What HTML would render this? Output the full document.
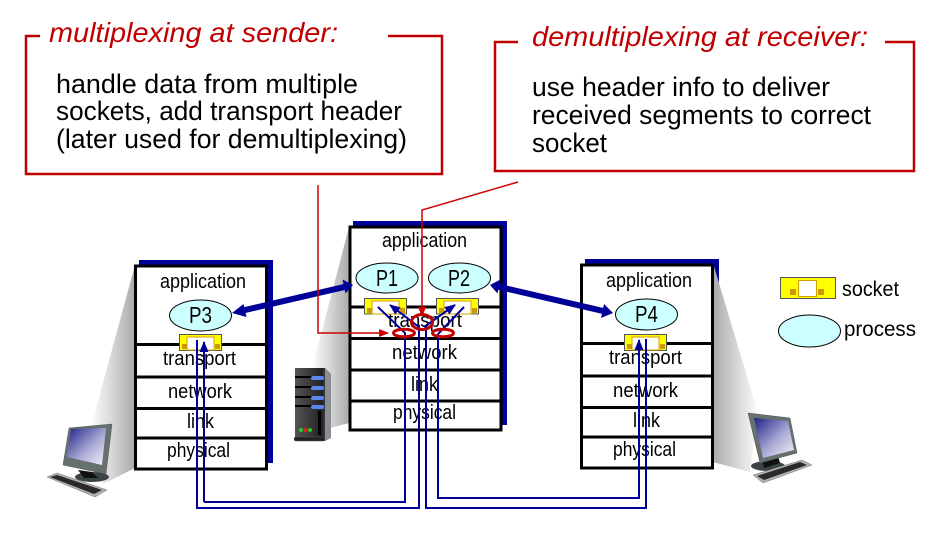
<!DOCTYPE html>
<html>
<head>
<meta charset="utf-8">
<style>
html,body{margin:0;padding:0;background:#fff;width:939px;height:539px;overflow:hidden}
svg{display:block}
text{font-family:"Liberation Sans",sans-serif;fill:#000}
.r{fill:#c00000;font-style:italic;font-size:28px}
.b{font-size:27px}
.s{font-size:20px}
.p{font-size:23px}
</style>
</head>
<body>
<svg width="939" height="539" viewBox="0 0 939 539" xmlns="http://www.w3.org/2000/svg">
<defs>
<linearGradient id="gl" x1="1" y1="0" x2="0" y2="0"><stop offset="0" stop-color="#aaaaaa"/><stop offset=".55" stop-color="#d8d8d8"/><stop offset="1" stop-color="#fbfbfb"/></linearGradient>
<linearGradient id="gr" x1="0" y1="0" x2="1" y2="0"><stop offset="0" stop-color="#aaaaaa"/><stop offset=".55" stop-color="#d8d8d8"/><stop offset="1" stop-color="#fbfbfb"/></linearGradient>
<linearGradient id="sc" x1="0" y1="0" x2="1" y2="1"><stop offset="0" stop-color="#1f1f88"/><stop offset=".55" stop-color="#a8a8d4"/><stop offset="1" stop-color="#f4f4fb"/></linearGradient>
<linearGradient id="sv" x1="0" y1="0" x2="1" y2="0"><stop offset="0" stop-color="#555"/><stop offset=".75" stop-color="#222"/><stop offset="1" stop-color="#777"/></linearGradient>
<marker id="ar" markerWidth="10" markerHeight="8" refX="9" refY="4" orient="auto" markerUnits="userSpaceOnUse"><path d="M0 0L10 4L0 8Z" fill="#d00000"/></marker>
<marker id="ab" markerWidth="11" markerHeight="9" refX="10" refY="4.5" orient="auto" markerUnits="userSpaceOnUse"><path d="M0 0L11 4.5L0 9Z" fill="#000099"/></marker>
</defs>

<!-- callouts -->
<path d="M40 36H26V174H442V36H388" fill="none" stroke="#c00000" stroke-width="2.500"/>
<text class="r" x="49" y="42" textLength="289" lengthAdjust="spacingAndGlyphs">multiplexing at sender:</text>
<text class="b" x="56" y="93" textLength="302" lengthAdjust="spacingAndGlyphs">handle data from multiple</text>
<text class="b" x="56" y="120" textLength="346" lengthAdjust="spacingAndGlyphs">sockets, add transport header</text>
<text class="b" x="56" y="148" textLength="351" lengthAdjust="spacingAndGlyphs">(later used for demultiplexing)</text>

<path d="M518 42H495V171H914V42H885" fill="none" stroke="#c00000" stroke-width="2.500"/>
<text class="r" x="532" y="46" textLength="336" lengthAdjust="spacingAndGlyphs">demultiplexing at receiver:</text>
<text class="b" x="532" y="96" textLength="298" lengthAdjust="spacingAndGlyphs">use header info to deliver</text>
<text class="b" x="532" y="124" textLength="339" lengthAdjust="spacingAndGlyphs">received segments to correct</text>
<text class="b" x="532" y="152" textLength="75" lengthAdjust="spacingAndGlyphs">socket</text>

<!-- blue shadows -->
<rect x="139" y="260" width="134" height="203" fill="#000099"/>
<rect x="353" y="221" width="154" height="204" fill="#000099"/>
<rect x="585" y="259" width="134" height="60" fill="#000099"/>

<!-- gray cones -->
<polygon points="135,265 92,423 103,484 135,468" fill="url(#gl)"/>
<polygon points="349,227 313,365 330,428 349,423" fill="url(#gl)"/>
<polygon points="713,263 758,413 750,472 713,462" fill="url(#gr)"/>

<!-- left stack -->
<rect x="135.500" y="266" width="131" height="203" fill="#fff" stroke="#000" stroke-width="3"/>
<path d="M135 344.500H267M135 377H267M135 408.500H267M135 438H267" stroke="#000" stroke-width="3"/>
<!-- center stack -->
<rect x="350" y="227" width="151" height="203" fill="#fff" stroke="#000" stroke-width="3"/>
<path d="M350 307H501M350 338.500H501M350 370H501M350 401H501" stroke="#000" stroke-width="3"/>
<!-- right stack -->
<rect x="581.500" y="265" width="131" height="203" fill="#fff" stroke="#000" stroke-width="3"/>
<path d="M581 343.500H713M581 376H713M581 407.500H713M581 437H713" stroke="#000" stroke-width="3"/>

<!-- stack labels -->
<text class="s" x="160" y="288" textLength="86" lengthAdjust="spacingAndGlyphs">application</text>
<text class="s" x="163" y="365" textLength="73" lengthAdjust="spacingAndGlyphs">transport</text>
<text class="s" x="168" y="398" textLength="64" lengthAdjust="spacingAndGlyphs">network</text>
<text class="s" x="187" y="428" textLength="27" lengthAdjust="spacingAndGlyphs">link</text>
<text class="s" x="167" y="457" textLength="63" lengthAdjust="spacingAndGlyphs">physical</text>

<text class="s" x="382" y="247" textLength="85" lengthAdjust="spacingAndGlyphs">application</text>
<text class="s" x="388" y="327" textLength="74" lengthAdjust="spacingAndGlyphs">transport</text>
<text class="s" x="392" y="359" textLength="65" lengthAdjust="spacingAndGlyphs">network</text>
<text class="s" x="411" y="391" textLength="27" lengthAdjust="spacingAndGlyphs">link</text>
<text class="s" x="393" y="419" textLength="63" lengthAdjust="spacingAndGlyphs">physical</text>

<text class="s" x="606" y="287" textLength="86" lengthAdjust="spacingAndGlyphs">application</text>
<text class="s" x="609" y="364" textLength="73" lengthAdjust="spacingAndGlyphs">transport</text>
<text class="s" x="613" y="397" textLength="65" lengthAdjust="spacingAndGlyphs">network</text>
<text class="s" x="633" y="427" textLength="27" lengthAdjust="spacingAndGlyphs">link</text>
<text class="s" x="613" y="456" textLength="63" lengthAdjust="spacingAndGlyphs">physical</text>

<!-- processes -->
<g fill="#ccffff" stroke="#000" stroke-width="1">
<ellipse cx="387" cy="278" rx="31" ry="15"/>
<ellipse cx="459.500" cy="278" rx="31" ry="15"/>
<ellipse cx="200.500" cy="315.500" rx="31" ry="15.500"/>
<ellipse cx="646.500" cy="314.500" rx="31" ry="15.500"/>
<ellipse cx="809.500" cy="331" rx="31" ry="16"/>
</g>
<text class="p" x="376" y="286" textLength="22" lengthAdjust="spacingAndGlyphs">P1</text>
<text class="p" x="448" y="286" textLength="22" lengthAdjust="spacingAndGlyphs">P2</text>
<text class="p" x="189" y="323" textLength="23" lengthAdjust="spacingAndGlyphs">P3</text>
<text class="p" x="635" y="322" textLength="23" lengthAdjust="spacingAndGlyphs">P4</text>

<!-- sockets -->
<g transform="translate(364,298)"><rect x=".5" y=".5" width="42" height="15.500" fill="#ffff00" stroke="#555"/><rect x="8" y="3" width="27" height="13" fill="#fff" stroke="#d6a000"/><rect x="3" y="10" width="5" height="5" fill="#cc9900"/><rect x="36" y="10" width="5" height="5" fill="#cc9900"/></g>
<g transform="translate(436,298)"><rect x=".5" y=".5" width="42" height="15.500" fill="#ffff00" stroke="#555"/><rect x="8" y="3" width="27" height="13" fill="#fff" stroke="#d6a000"/><rect x="3" y="10" width="5" height="5" fill="#cc9900"/><rect x="36" y="10" width="5" height="5" fill="#cc9900"/></g>
<g transform="translate(179,334)"><rect x=".5" y=".5" width="42" height="16" fill="#ffff00" stroke="#555"/><rect x="8" y="3" width="27" height="13" fill="#fff" stroke="#d6a000"/><rect x="3" y="10" width="5" height="5" fill="#cc9900"/><rect x="36" y="10" width="5" height="5" fill="#cc9900"/></g>
<g transform="translate(624,334)"><rect x=".5" y=".5" width="42" height="16" fill="#ffff00" stroke="#555"/><rect x="8" y="3" width="27" height="13" fill="#fff" stroke="#d6a000"/><rect x="3" y="10" width="5" height="5" fill="#cc9900"/><rect x="36" y="10" width="5" height="5" fill="#cc9900"/></g>
<g transform="translate(780,277)"><rect x=".5" y=".5" width="55" height="21" fill="#ffff00" stroke="#555"/><rect x="18.500" y="3.500" width="18" height="16" fill="#fff" stroke="#d6a000"/><rect x="10" y="12" width="6" height="6" fill="#cc9900"/><rect x="38" y="12" width="6" height="6" fill="#cc9900"/></g>

<!-- legend text -->
<text x="842" y="296" font-size="21" textLength="57" lengthAdjust="spacingAndGlyphs">socket</text>
<text x="844" y="336" font-size="21" textLength="72" lengthAdjust="spacingAndGlyphs">process</text>

<!-- thick arrows -->
<g stroke="#000099" stroke-width="6" fill="none">
<path d="M240 311.200L345 286.800"/>
<path d="M498 286.600L605 311.400"/>
</g>
<g fill="#000099">
<path d="M232 313L243.500 304L246.500 317Z"/>
<path d="M353 285L342.500 279.500L345.500 293.500Z"/>
<path d="M490 285L500.500 279.500L497.500 293.500Z"/>
<path d="M613 313L604 304L601 318Z"/>
</g>

<!-- thin blue wires -->
<g fill="none" stroke="#000099" stroke-width="2">
<path d="M197 340V508H419V325"/>
<path d="M204 502V342" marker-end="url(#ab)"/>
<path d="M204 502H405V333L378 307"/>
<path d="M426 325V508H646V339"/>
<path d="M438 334V498H639V340" marker-end="url(#ab)"/>
<path d="M419 327L390 305" marker-end="url(#ab)"/>
<path d="M424 327L455 305" marker-end="url(#ab)"/>
<path d="M438 334L464 307"/>
</g>

<!-- red connectors -->
<g fill="none" stroke="#d00000" stroke-width="1.500">
<path d="M318 185V333H388" marker-end="url(#ar)"/>
<path d="M518 182L422 210V316" marker-end="url(#ar)"/>
</g>
<g fill="none" stroke="#c00000" stroke-width="3">
<ellipse cx="404" cy="333" rx="10.500" ry="3.800"/>
<ellipse cx="422" cy="322" rx="10.500" ry="7.500"/>
<ellipse cx="443" cy="333" rx="10.500" ry="3.800"/>
</g>

<!-- server -->
<g>
<polygon points="295,368 325,368 331,374 331,438 325,441 295,441" fill="url(#sv)"/>
<polygon points="325,368 331,374 331,438 325,441" fill="#8a8f96"/>
<path d="M295 377H323M295 387H323M295 397H323M295 406H323" stroke="#000" stroke-width="2"/>
<g fill="#5a86ee"><rect x="311" y="376" width="13" height="4" rx="2"/><rect x="311" y="386" width="13" height="4" rx="2"/><rect x="311" y="396" width="13" height="4" rx="2"/><rect x="311" y="405" width="13" height="4" rx="2"/></g>
<rect x="318" y="411" width="3" height="24" fill="#000"/>
<circle cx="301" cy="430" r="2" fill="#22cc22"/><circle cx="305.500" cy="430" r="2" fill="#ee2222"/><circle cx="310" cy="430" r="2" fill="#22cc22"/>
<rect x="294" y="437" width="31" height="4" rx="2" fill="#222" stroke="#555" stroke-width=".5"/>
</g>

<!-- left computer -->
<g>
<ellipse cx="92" cy="477" rx="17" ry="5" fill="#3a4444"/>
<polygon points="78,470 92,472 98,478 84,478" fill="#111"/>
<polygon points="69,428 112,424 106,474 63,465" fill="#66706f" stroke="#555" stroke-width=".5"/>
<polygon points="71,429 106,428 102,465 67,457" fill="url(#sc)"/>
<polygon points="47,477 57,473 107,490 95,497" fill="#b0b0b0" stroke="#777" stroke-width=".5"/>
<polygon points="50,477 57,475 102,490 94,494" fill="#2a2a2a"/>
</g>
<!-- right computer -->
<g>
<ellipse cx="768" cy="466" rx="17" ry="5" fill="#3a4444"/>
<polygon points="762,458 778,456 780,463 764,468" fill="#111"/>
<polygon points="748,413 790,418 797,453 760,463" fill="#66706f" stroke="#555" stroke-width=".5"/>
<polygon points="754,418 788,421 794,450 763,458" fill="url(#sc)"/>
<polygon points="753,475 802,460 812,465 763,483" fill="#b0b0b0" stroke="#777" stroke-width=".5"/>
<polygon points="757,476 800,462 807,465 764,480" fill="#2a2a2a"/>
</g>
</svg>
</body>
</html>
